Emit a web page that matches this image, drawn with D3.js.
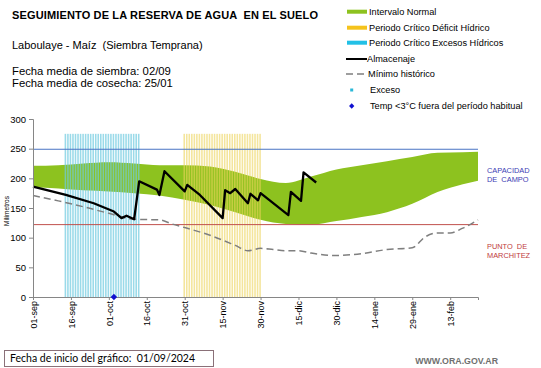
<!DOCTYPE html>
<html><head><meta charset="utf-8">
<script src="https://cdn.jsdelivr.net/npm/d3@7"></script>
<style>body{margin:0;background:#fff}svg{display:block;font-family:"Liberation Sans",Arial,sans-serif}</style>
</head><body>
<script>
// ---------- DATA ----------
const xTickDays = [0,15,30,45,60,75,90,105,120,135,150,165];
const xTickLabels = ["01-sep","16-sep","01-oct","16-oct","31-oct","15-nov","30-nov","15-dic","30-dic","14-ene","29-ene","13-feb"];
const yTicks = [0,50,100,150,200,250,300];
const dayDomain = [0,176];

const bandDays  = [0,10,20,30,40,50,60,70,80,90,100,110,120,130,140,150,160,170,176];
const bandUpper = [221,222,225,227,225,222,222,220,211,199,192,203,215,222,229,236,243,244,245];
const bandLower = [185,183,180,178,175,171,164,155,143,130,123,122,128,135,143,157,177,190,196];

const storageDays   = [0,13,24,32,35,37,40,42,49,50,52,60,61,66,75,76,78,80,85,86,89,90,101,102,106,107,112];
const storageValues = [186,172,158,144,133,137,131,195,181,172,212,178,189,172,133,180,175,182,158,174,163,175,138,177,162,210,193];

const minDays   = [0,10,20,30,40,50,55,60,70,80,85,90,95,100,105,110,120,130,140,150,155,160,165,170,176];
const minValues = [171,162,152,141,131,130,123,117,104,87,78,82,80,78,78,74,70,73,80,83,101,108,108,116,130];

const excessCriticalDays  = d3.range(13,43);   // 13-sep .. 13-oct
const deficitCriticalDays = d3.range(60,91);   // 31-oct .. 30-nov
const criticalTop = 275;
const fieldCapacity = 249;
const wiltingPoint = 122;
const frostDays = [32];

// ---------- CHART ----------
const W = 541, H = 368;
const svg = d3.select("body").append("svg").attr("width",W).attr("height",H);
const x = d3.scaleLinear().domain(dayDomain).range([33,478]);
const y = d3.scaleLinear().domain([0,300]).range([297,119]);
const dw = x(1)-x(0);

// green band
const area = d3.area().x((d,i)=>x(bandDays[i])).y0((d,i)=>y(bandLower[i])).y1((d,i)=>y(bandUpper[i])).curve(d3.curveMonotoneX);
svg.append("path").datum(bandDays).attr("d",area).attr("fill","#8dc21f");

// critical period bars
svg.append("g").selectAll("rect").data(excessCriticalDays).join("rect")
  .attr("x",d=>x(d)-dw/2).attr("width",dw*0.62).attr("y",y(criticalTop)).attr("height",y(0)-y(criticalTop))
  .attr("fill","#6fcbe0").attr("opacity",0.7);
svg.append("g").selectAll("rect").data(deficitCriticalDays).join("rect")
  .attr("x",d=>x(d)-dw/2).attr("width",dw*0.62).attr("y",y(criticalTop)).attr("height",y(0)-y(criticalTop))
  .attr("fill","#ecd35a").attr("opacity",0.6);

// reference lines
svg.append("line").attr("x1",x(dayDomain[0])).attr("x2",x(dayDomain[1])).attr("y1",y(fieldCapacity)).attr("y2",y(fieldCapacity)).attr("stroke","#4a74c4").attr("stroke-width",1);
svg.append("line").attr("x1",x(dayDomain[0])).attr("x2",x(dayDomain[1])).attr("y1",y(wiltingPoint)).attr("y2",y(wiltingPoint)).attr("stroke","#c0504d").attr("stroke-width",1);

// minimum historic dashed
const lineMin = d3.line().x((d,i)=>x(minDays[i])).y((d,i)=>y(minValues[i])).curve(d3.curveMonotoneX);
svg.append("path").datum(minDays).attr("d",lineMin).attr("fill","none").attr("stroke","#7f7f7f").attr("stroke-width",1.5).attr("stroke-dasharray","7,4");

// storage line
const lineSt = d3.line().x((d,i)=>x(storageDays[i])).y((d,i)=>y(storageValues[i]));
svg.append("path").datum(storageDays).attr("d",lineSt).attr("fill","none").attr("stroke","#000").attr("stroke-width",2.3).attr("stroke-linejoin","round");

// axes
const axisColor = "#868686";
const gy = svg.append("g").attr("transform",`translate(${x(dayDomain[0])},0)`)
  .call(d3.axisLeft(y).tickValues(yTicks).tickSize(4).tickPadding(3));
gy.select(".domain").attr("stroke",axisColor);
gy.selectAll(".tick line").attr("stroke",axisColor);
gy.selectAll("text").attr("font-size","9.5px").attr("fill","#000").attr("font-family","Liberation Sans, Arial");

const gx = svg.append("g").attr("transform",`translate(0,${y(0)})`)
  .call(d3.axisBottom(x).tickValues(xTickDays).tickSize(3).tickFormat((d,i)=>xTickLabels[i]));
gx.select(".domain").attr("stroke",axisColor);
gx.selectAll(".tick line").attr("stroke",axisColor);
gx.selectAll("text").attr("font-size","9px").attr("fill","#000").attr("font-family","Liberation Sans, Arial")
  .attr("text-anchor","end").attr("transform","rotate(-90)").attr("x",-4).attr("y",0).attr("dy","0.35em").attr("dx",0);

// frost marker (square rotated 45deg)
svg.append("g").selectAll("path").data(frostDays).join("path")
  .attr("d",d3.symbol(d3.symbolSquare,20)).attr("transform",d=>`translate(${x(d)},${y(0)}) rotate(45)`).attr("fill","#1010d0");

// y label
svg.append("text").attr("transform",`translate(9,${211}) rotate(-90)`).attr("text-anchor","middle").attr("font-size","6.5px").text("Milímetros");

// titles
svg.append("text").attr("x",12).attr("y",19).attr("font-size","11px").attr("font-weight","bold").attr("xml:space","preserve")
  .attr("textLength",306).attr("lengthAdjust","spacing").text("SEGUIMIENTO DE LA RESERVA DE AGUA  EN EL SUELO");
svg.append("text").attr("x",12).attr("y",49).attr("font-size","11px").attr("xml:space","preserve").text("Laboulaye - Maíz  (Siembra Temprana)");
svg.append("text").attr("x",12).attr("y",75).attr("font-size","11.3px").text("Fecha media de siembra: 02/09");
svg.append("text").attr("x",12).attr("y",86.5).attr("font-size","11.3px").text("Fecha media de cosecha: 25/01");

// legend
const lg = svg.append("g").attr("font-size","9.2px");
const rectItems = [["Intervalo Normal","#8dc21f",11.7],["Periodo Crítico Déficit Hídrico","#f5c31c",27.7],["Periodo Crítico Excesos Hídricos","#22c0e6",42.7]];
rectItems.forEach(([t,c,cy])=>{
  lg.append("rect").attr("x",347).attr("y",cy-2).attr("width",20).attr("height",4).attr("fill",c);
  lg.append("text").attr("x",369).attr("y",cy+3.2).text(t);
});
lg.append("line").attr("x1",346).attr("x2",367).attr("y1",59).attr("y2",59).attr("stroke","#000").attr("stroke-width",2);
lg.append("text").attr("x",367).attr("y",62.2).text("Almacenaje");
lg.append("line").attr("x1",346).attr("x2",367).attr("y1",74).attr("y2",74).attr("stroke","#7f7f7f").attr("stroke-width",1.5).attr("stroke-dasharray","7,4");
lg.append("text").attr("x",368).attr("y",77.2).text("Mínimo histórico");
lg.append("rect").attr("x",350.2).attr("y",88.5).attr("width",3).attr("height",3).attr("fill","#2ab8d8");
lg.append("text").attr("x",370).attr("y",93.2).text("Exceso");
lg.append("path").attr("d",d3.symbol(d3.symbolSquare,14)).attr("transform","translate(351.7,106) rotate(45)").attr("fill","#1010d0");
lg.append("text").attr("x",370).attr("y",109.2).text("Temp <3°C fuera del período habitual");

// right labels
const rl = svg.append("g").attr("font-size","7.4px");
rl.append("text").attr("x",487).attr("y",172.5).attr("fill","#3c3cb4").text("CAPACIDAD");
rl.append("text").attr("x",487).attr("y",181.8).attr("fill","#3c3cb4").attr("xml:space","preserve").text("DE  CAMPO");
rl.append("text").attr("x",487).attr("y",249.2).attr("fill","#c03c3c").attr("xml:space","preserve").text("PUNTO  DE");
rl.append("text").attr("x",487).attr("y",257.8).attr("fill","#c03c3c").text("MARCHITEZ");

// bottom
svg.append("rect").attr("x",4.5).attr("y",350.5).attr("width",209).attr("height",16).attr("fill","none").attr("stroke","#8a7078").attr("stroke-width",1);
svg.append("text").attr("x",10).attr("y",361.8).attr("font-size","10.5px").attr("font-family","Lato, 'Open Sans', sans-serif").attr("xml:space","preserve").text("Fecha de inicio del gráfico:  01/09/2024");
svg.append("text").attr("x",498).attr("y",363.5).attr("text-anchor","end").attr("font-size","8.8px").attr("font-weight","bold").attr("fill","#707070").text("WWW.ORA.GOV.AR");
</script>
</body></html>
